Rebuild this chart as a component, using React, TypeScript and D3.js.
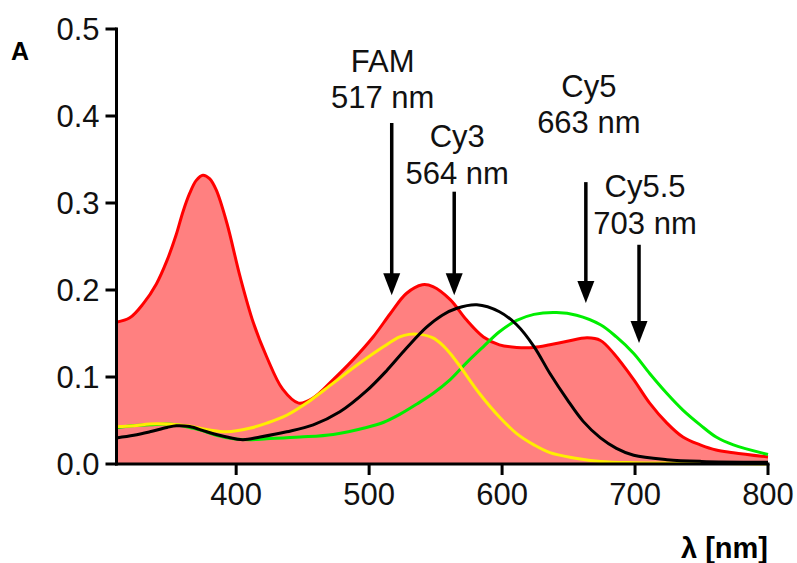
import React from 'react';
import * as d3 from 'd3';

// absorbance spectra (wavelength in nm, absorbance A)
const redNm = [310, 320, 330, 340, 348, 355, 360, 365, 370, 375, 380, 385, 393, 403, 413, 423, 435, 447, 458, 473, 488, 503, 516, 528, 540, 548, 561, 573, 586, 598, 611, 624, 636, 649, 664, 674, 684, 699, 711, 724, 736, 749, 761, 774, 800];
const redA = [0.163, 0.168, 0.184, 0.207, 0.234, 0.264, 0.29, 0.311, 0.326, 0.332, 0.328, 0.315, 0.277, 0.215, 0.162, 0.123, 0.086, 0.07, 0.076, 0.097, 0.12, 0.146, 0.173, 0.196, 0.206, 0.204, 0.189, 0.166, 0.146, 0.137, 0.134, 0.134, 0.137, 0.141, 0.145, 0.142, 0.127, 0.097, 0.07, 0.047, 0.031, 0.022, 0.016, 0.013, 0.008];

const greenNm = [310, 322, 335, 348, 355, 365, 373, 385, 398, 410, 423, 448, 473, 498, 511, 523, 536, 548, 561, 573, 586, 598, 611, 624, 641, 656, 674, 686, 699, 711, 724, 736, 749, 761, 774, 800];
const greenA = [0.042, 0.044, 0.045, 0.046, 0.045, 0.042, 0.039, 0.033, 0.029, 0.028, 0.029, 0.031, 0.034, 0.042, 0.048, 0.057, 0.069, 0.081, 0.097, 0.116, 0.135, 0.152, 0.165, 0.172, 0.174, 0.171, 0.16, 0.146, 0.127, 0.104, 0.081, 0.062, 0.045, 0.031, 0.022, 0.011];

const yellowNm = [310, 323, 335, 348, 363, 380, 393, 410, 423, 438, 453, 473, 493, 511, 523, 530, 538, 548, 555, 561, 568, 583, 598, 611, 624, 636, 654, 674, 699, 740, 800];
const yellowA = [0.043, 0.044, 0.046, 0.046, 0.044, 0.039, 0.037, 0.041, 0.047, 0.056, 0.07, 0.093, 0.116, 0.135, 0.146, 0.149, 0.149, 0.145, 0.137, 0.127, 0.113, 0.081, 0.054, 0.035, 0.022, 0.013, 0.007, 0.003, 0.0015, 0.001, 0.0];

const blackNm = [310, 323, 335, 348, 355, 365, 378, 393, 405, 418, 438, 458, 478, 498, 513, 528, 543, 555, 566, 581, 598, 611, 624, 636, 649, 661, 674, 686, 699, 724, 750, 800];
const blackA = [0.03, 0.033, 0.037, 0.042, 0.044, 0.043, 0.037, 0.031, 0.028, 0.031, 0.037, 0.045, 0.06, 0.084, 0.107, 0.133, 0.157, 0.171, 0.179, 0.183, 0.175, 0.16, 0.135, 0.104, 0.074, 0.049, 0.03, 0.018, 0.01, 0.005, 0.003, 0.002];

// dye excitation markers
const dyeNames = ['FAM', 'Cy3', 'Cy5', 'Cy5.5'];
const dyeNm = [517, 564, 663, 703];
const arrowTopA = [0.392, 0.313, 0.324, 0.252];
const arrowTipA = [0.194, 0.194, 0.185, 0.139];

const xTicks = [400, 500, 600, 700, 800];
const yTicks = [0, 0.1, 0.2, 0.3, 0.4, 0.5];

const W = 797;
const H = 563;
const FONT = '"Liberation Sans", Arial, sans-serif';

// label layout: horizontal nudge and baselines (px) for the two text lines
const labelDx = [-9, 3, 3, 6];
const labelY1 = [72, 147, 97, 197];
const labelY2 = [108, 184, 133, 234];

const App = () => {
  const x = d3.scaleLinear().domain([310, 800]).range([116.5, 768]);
  const y = d3.scaleLinear().domain([0, 0.5]).range([464, 29]);

  const pts = (nm: number[], a: number[]) => nm.map((v, i) => [v, a[i]] as [number, number]);

  const curve = d3.curveCatmullRom.alpha(0.5);

  const line = d3
    .line<[number, number]>()
    .x((d) => x(d[0]))
    .y((d) => y(d[1]))
    .curve(curve);

  const area = d3
    .area<[number, number]>()
    .x((d) => x(d[0]))
    .y0(y(0))
    .y1((d) => y(d[1]))
    .curve(curve);

  const red = pts(redNm, redA);
  const tick = 11;

  return (
    <svg width={W} height={H} style={{ position: 'absolute', left: 0, top: 0, background: '#fff' }} fontFamily={FONT}>
      {/* red filled spectrum */}
      <path d={area(red) || ''} fill="#ff8080" stroke="none" />
      <path d={line(red) || ''} fill="none" stroke="#ff0000" strokeWidth={3} />
      <path d={line(pts(greenNm, greenA)) || ''} fill="none" stroke="#00ee00" strokeWidth={3} />
      <path d={line(pts(yellowNm, yellowA)) || ''} fill="none" stroke="#ffee00" strokeWidth={3} />
      <path d={line(pts(blackNm, blackA)) || ''} fill="none" stroke="#000" strokeWidth={3} />

      {/* axes */}
      <g stroke="#000" strokeWidth={3} fill="none">
        <line x1={x(310)} x2={x(310)} y1={y(0.5) - 1.5} y2={y(0) + 1.5} />
        <line x1={x(310) - 1.5} x2={x(800) + 1.5} y1={y(0)} y2={y(0)} />
        {yTicks.map((t) => (
          <line key={'yt' + t} x1={x(310) - tick} x2={x(310)} y1={y(t)} y2={y(t)} />
        ))}
        {xTicks.map((t) => (
          <line key={'xt' + t} x1={x(t)} x2={x(t)} y1={y(0)} y2={y(0) + tick} />
        ))}
      </g>
      <g fontSize={31} fill="#111">
        {yTicks.map((t) => (
          <text key={'yl' + t} x={x(310) - 17} y={y(t)} dy="0.36em" textAnchor="end">
            {d3.format('.1f')(t)}
          </text>
        ))}
        {xTicks.map((t) => (
          <text key={'xl' + t} x={x(t)} y={505} textAnchor="middle">
            {t}
          </text>
        ))}
      </g>
      <text x={11} y={60} fontSize={25} fontWeight="bold" fill="#000">
        A
      </text>
      <text x={768} y={558} fontSize={29} fontWeight="bold" textAnchor="end" fill="#000">
        λ [nm]
      </text>

      {/* arrows with dye labels */}
      {dyeNames.map((name, i) => {
        const ax = x(dyeNm[i]);
        const top = y(arrowTopA[i]);
        const tip = y(arrowTipA[i]);
        return (
          <g key={name}>
            <line x1={ax} x2={ax} y1={top} y2={tip - 18} stroke="#000" strokeWidth={3.5} />
            <path d={`M${ax - 8.5},${tip - 22}L${ax + 8.5},${tip - 22}L${ax},${tip}Z`} fill="#000" />
            <text x={ax + labelDx[i]} y={labelY1[i]} fontSize={31} textAnchor="middle" fill="#111">
              {name}
            </text>
            <text x={ax + labelDx[i]} y={labelY2[i]} fontSize={31} textAnchor="middle" fill="#111">
              {dyeNm[i]} nm
            </text>
          </g>
        );
      })}
    </svg>
  );
};

export default App;
